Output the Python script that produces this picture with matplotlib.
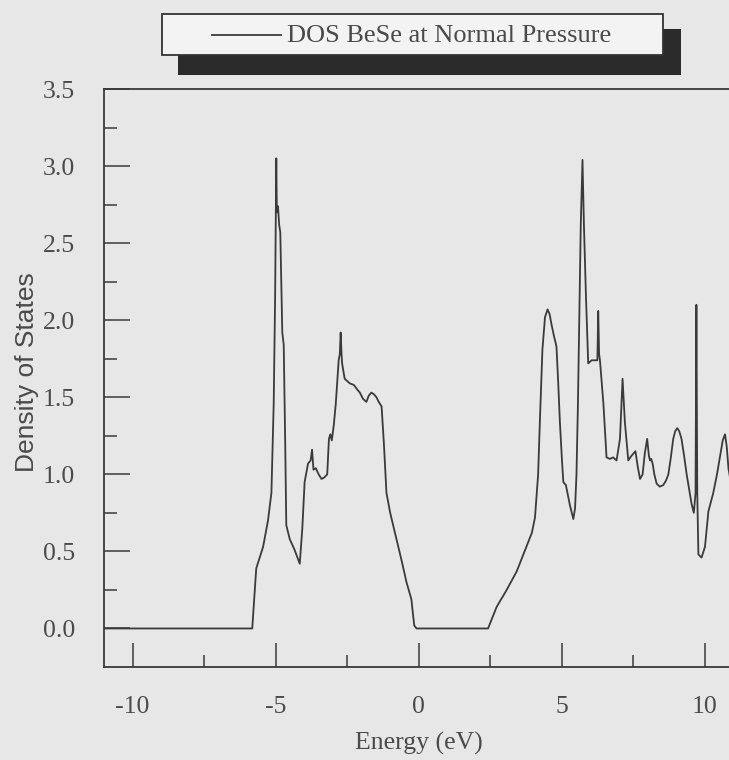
import numpy as np
import matplotlib
matplotlib.use("Agg")
import matplotlib.pyplot as plt
from matplotlib.patches import Rectangle
from matplotlib.lines import Line2D
from matplotlib.ticker import FixedLocator, MultipleLocator

# DOS curve (energy in eV, density of states)
energy = [-11.0, -5.82, -5.68, -5.56, -5.44, -5.27, -5.15, -5.07, -5.02, -4.98,
          -4.96, -4.92, -4.88, -4.84, -4.77, -4.72, -4.67, -4.63, -4.51, -4.34,
          -4.16, -4.07, -3.99, -3.87, -3.78, -3.73, -3.68, -3.60, -3.50, -3.40,
          -3.30, -3.20, -3.14, -3.09, -3.04, -2.97, -2.90, -2.80, -2.76, -2.73,
          -2.70, -2.68, -2.59, -2.41, -2.27, -2.15, -2.06, -1.95, -1.83, -1.75,
          -1.66, -1.57, -1.48, -1.40, -1.30, -1.22, -1.13, -1.00, -0.78, -0.60,
          -0.43, -0.26, -0.16, -0.08,
          2.42, 2.72, 3.07, 3.42, 3.76, 3.95, 4.06, 4.17, 4.23, 4.32,
          4.41, 4.50, 4.57, 4.64, 4.72, 4.81, 4.87, 4.93, 5.00, 5.05,
          5.14, 5.28, 5.40, 5.46, 5.51, 5.56, 5.60, 5.66, 5.72, 5.77,
          5.84, 5.92, 6.04, 6.24, 6.27, 6.30, 6.33, 6.45, 6.56, 6.68,
          6.79, 6.91, 7.03, 7.12, 7.20, 7.32, 7.43, 7.57, 7.65, 7.73,
          7.82, 7.90, 7.98, 8.04, 8.08, 8.12, 8.17, 8.23, 8.31, 8.42,
          8.54, 8.64, 8.72, 8.80, 8.89, 8.96, 9.03, 9.10, 9.18, 9.27,
          9.36, 9.45, 9.53, 9.61, 9.67, 9.70, 9.73, 9.77, 9.88, 10.00,
          10.12, 10.29, 10.42, 10.52, 10.62, 10.70, 10.76, 10.82, 10.90, 11.0]
dos = [0.0, 0.0, 0.39, 0.46, 0.53, 0.70, 0.88, 1.46, 2.16, 3.05,
       2.70, 2.74, 2.62, 2.57, 1.92, 1.84, 1.23, 0.67, 0.58, 0.51,
       0.42, 0.65, 0.95, 1.07, 1.09, 1.16, 1.03, 1.04, 1.00, 0.97,
       0.98, 1.00, 1.23, 1.26, 1.22, 1.32, 1.46, 1.74, 1.78, 1.92,
       1.78, 1.72, 1.62, 1.59, 1.58, 1.55, 1.53, 1.49, 1.47, 1.51,
       1.53, 1.52, 1.50, 1.47, 1.44, 1.20, 0.88, 0.75, 0.58, 0.44,
       0.30, 0.19, 0.02, 0.0,
       0.0, 0.14, 0.25, 0.37, 0.53, 0.62, 0.72, 1.00, 1.34, 1.81,
       2.02, 2.07, 2.04, 1.97, 1.90, 1.83, 1.60, 1.34, 1.10, 0.95,
       0.93, 0.80, 0.71, 0.78, 1.00, 1.45, 1.92, 2.62, 3.04, 2.62,
       2.16, 1.72, 1.74, 1.74, 2.06, 1.78, 1.74, 1.46, 1.11, 1.10,
       1.11, 1.09, 1.23, 1.62, 1.34, 1.09, 1.12, 1.15, 1.05, 0.97,
       1.00, 1.14, 1.23, 1.12, 1.09, 1.10, 1.07, 1.00, 0.94, 0.92,
       0.93, 0.96, 1.00, 1.10, 1.23, 1.28, 1.30, 1.28, 1.23, 1.12,
       1.00, 0.90, 0.81, 0.75, 0.88, 2.10, 0.88, 0.48, 0.46, 0.53,
       0.76, 0.88, 1.00, 1.11, 1.22, 1.26, 1.18, 1.04, 0.95, 0.90]

series_label = "DOS BeSe at Normal Pressure"
xticks = [-10, -5, 0, 5, 10]
xtick_labels = ["-10", "-5", "0", "5", "10"]
xminor = [-7.5, -2.5, 2.5, 7.5]
yticks = [0.0, 0.5, 1.0, 1.5, 2.0, 2.5, 3.0, 3.5]

bg = "#e7e7e7"
ink = "#3a3a3a"
txt = "#4a4a4a"
serif = ["Liberation Serif", "DejaVu Serif"]

fig = plt.figure(figsize=(7.29, 7.6), dpi=100, facecolor=bg)
ax = fig.add_axes([104 / 729, 93 / 760, 629.6 / 729, 578 / 760], facecolor=bg)

ax.plot(energy, dos, color=ink, lw=1.3, label=series_label)

ax.set_xlim(-11, 11)
ax.set_ylim(-0.25, 3.5)

ax.xaxis.set_major_locator(FixedLocator(xticks))
ax.set_xticklabels(xtick_labels)
ax.xaxis.set_minor_locator(FixedLocator(xminor))
ax.yaxis.set_major_locator(FixedLocator(yticks))
ax.set_yticklabels([f"{v:.1f}" for v in yticks])
ax.yaxis.set_minor_locator(FixedLocator(np.arange(0.25, 3.5, 0.5)))

for s in ax.spines.values():
    s.set_color(ink)
    s.set_linewidth(1.3)

ax.tick_params(which="both", direction="in", top=False, right=False,
               color=ink, width=1.1, labelcolor=txt)
ax.tick_params(axis="x", which="major", length=17.3, pad=21)
ax.tick_params(axis="x", which="minor", length=8.6)
ax.tick_params(axis="y", which="major", length=18.7, pad=21)
ax.tick_params(axis="y", which="minor", length=9.4)
for lab in ax.get_xticklabels() + ax.get_yticklabels():
    lab.set_fontfamily(serif)
    lab.set_fontsize(18.5)

ax.set_xlabel("Energy (eV)", fontsize=18.5, family=serif, color=txt, va="center")
ax.xaxis.set_label_coords(0.5, (667 - 743) / 578)
ax.set_ylabel("Density of States", fontsize=19,
              family=["Liberation Sans Narrow", "Liberation Sans"],
              color=txt, va="center")
ax.yaxis.set_label_coords((27 - 104) / 629.6, (667 - 372) / 578)

# legend box with a dark drop shadow, drawn by hand like the original
W, H = 729, 760
fig.patches.append(Rectangle((178 / W, 1 - 75 / H), 503 / W, 46 / H,
                             transform=fig.transFigure, facecolor="#2b2b2b",
                             edgecolor="none", zorder=1))
fig.patches.append(Rectangle((161.7 / W, 1 - 55 / H), 501 / W, 41 / H,
                             transform=fig.transFigure, facecolor="#f3f3f3",
                             edgecolor="#333333", lw=1.3, zorder=2))
fig.lines.append(Line2D([212 / W, 281 / W], [1 - 35 / H] * 2,
                        transform=fig.transFigure, color=ink, lw=1.3, zorder=3))
fig.text(287 / W, 1 - 35.5 / H, series_label, fontsize=19, family=serif,
         color=txt, va="center", ha="left", zorder=3)

fig.savefig("out.png", dpi=100, facecolor=bg)
